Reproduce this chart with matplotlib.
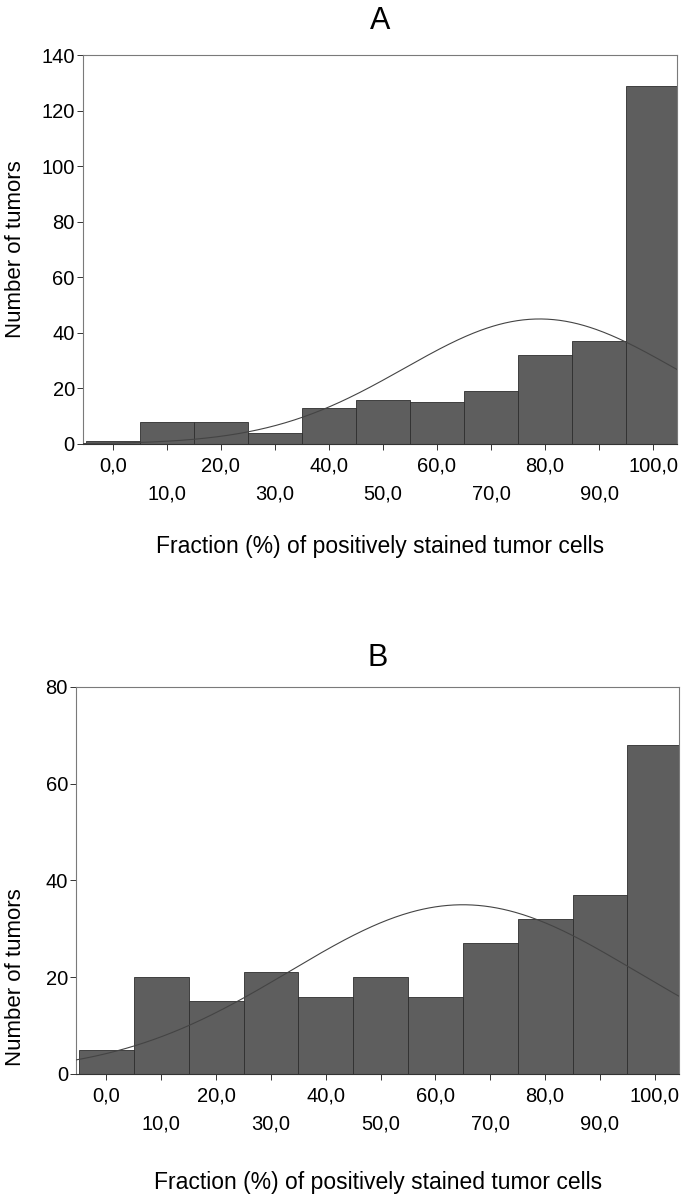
import numpy as np
import matplotlib
matplotlib.use("Agg")
import matplotlib.pyplot as plt

plt.rcParams['font.family'] = ['Liberation Sans', 'DejaVu Sans']

# bin centres (%), shared by both panels
centers = [0, 10, 20, 30, 40, 50, 60, 70, 80, 90, 100]
tick_labels = ['0,0', '10,0', '20,0', '30,0', '40,0', '50,0',
               '60,0', '70,0', '80,0', '90,0', '100,0']

# panel A counts
counts_a = [1, 8, 8, 4, 13, 16, 15, 19, 32, 37, 129]
# panel B counts
counts_b = [5, 20, 15, 21, 16, 20, 16, 27, 32, 37, 68]

# fitted normal curves (mean, sd)
fit_a = (79.0, 25.0)
fit_b = (65.0, 31.6)

bin_w = 10.0
xlabel = 'Fraction (%) of positively stained tumor cells'
ylabel = 'Number of tumors'


def panel(ax, counts, fit, ymax, yticks, title, title_pad, xlab_pad, ylab_xy):
    ax.bar(centers, counts, width=bin_w, color='#5e5e5e',
           edgecolor='#2e2e2e', linewidth=0.6, zorder=2)
    mu, sd = fit
    n = sum(counts)
    xs = np.linspace(-6, 106, 400)
    ys = n * bin_w * np.exp(-0.5 * ((xs - mu) / sd) ** 2) / (sd * np.sqrt(2 * np.pi))
    ax.plot(xs, ys, color='#444444', linewidth=0.8, zorder=3)

    ax.set_xlim(-5.5, 104.5)
    ax.set_ylim(0, ymax)
    ax.set_yticks(yticks)
    ax.set_yticklabels([str(t) for t in yticks])

    even = centers[0::2]
    odd = centers[1::2]
    ax.set_xticks(even)
    ax.set_xticklabels(tick_labels[0::2])
    ax.set_xticks(odd, minor=True)
    ax.set_xticklabels(tick_labels[1::2], minor=True)
    ax.tick_params(axis='x', which='major', length=4, width=0.7,
                   pad=5, labelsize=14.5, color='#333333')
    ax.tick_params(axis='x', which='minor', length=4, width=0.7,
                   pad=25.5, labelsize=14.5, color='#333333')
    ax.tick_params(axis='y', length=4, width=0.7, pad=2,
                   labelsize=14.5, color='#333333')

    for s in ax.spines.values():
        s.set_color('#7a7a7a')
        s.set_linewidth(0.8)
    ax.spines['bottom'].set_color('#333333')

    ax.set_title(title, fontsize=22, pad=title_pad)
    ax.set_xlabel(xlabel, fontsize=16.5, labelpad=xlab_pad)
    ax.set_ylabel(ylabel, fontsize=16)
    ax.yaxis.set_label_coords(*ylab_xy)


fig = plt.figure(figsize=(6.87, 11.99), dpi=100)
ax_a = fig.add_axes([0.121, 0.6297, 0.865, 0.3244])
ax_b = fig.add_axes([0.111, 0.1043, 0.878, 0.3228])

panel(ax_a, counts_a, fit_a, 140, [0, 20, 40, 60, 80, 100, 120, 140], 'A',
      19, 22, (-0.096, 0.5))
panel(ax_b, counts_b, fit_b, 80, [0, 20, 40, 60, 80], 'B',
      15, 27, (-0.083, 0.25))

fig.savefig('out.png', dpi=100)
